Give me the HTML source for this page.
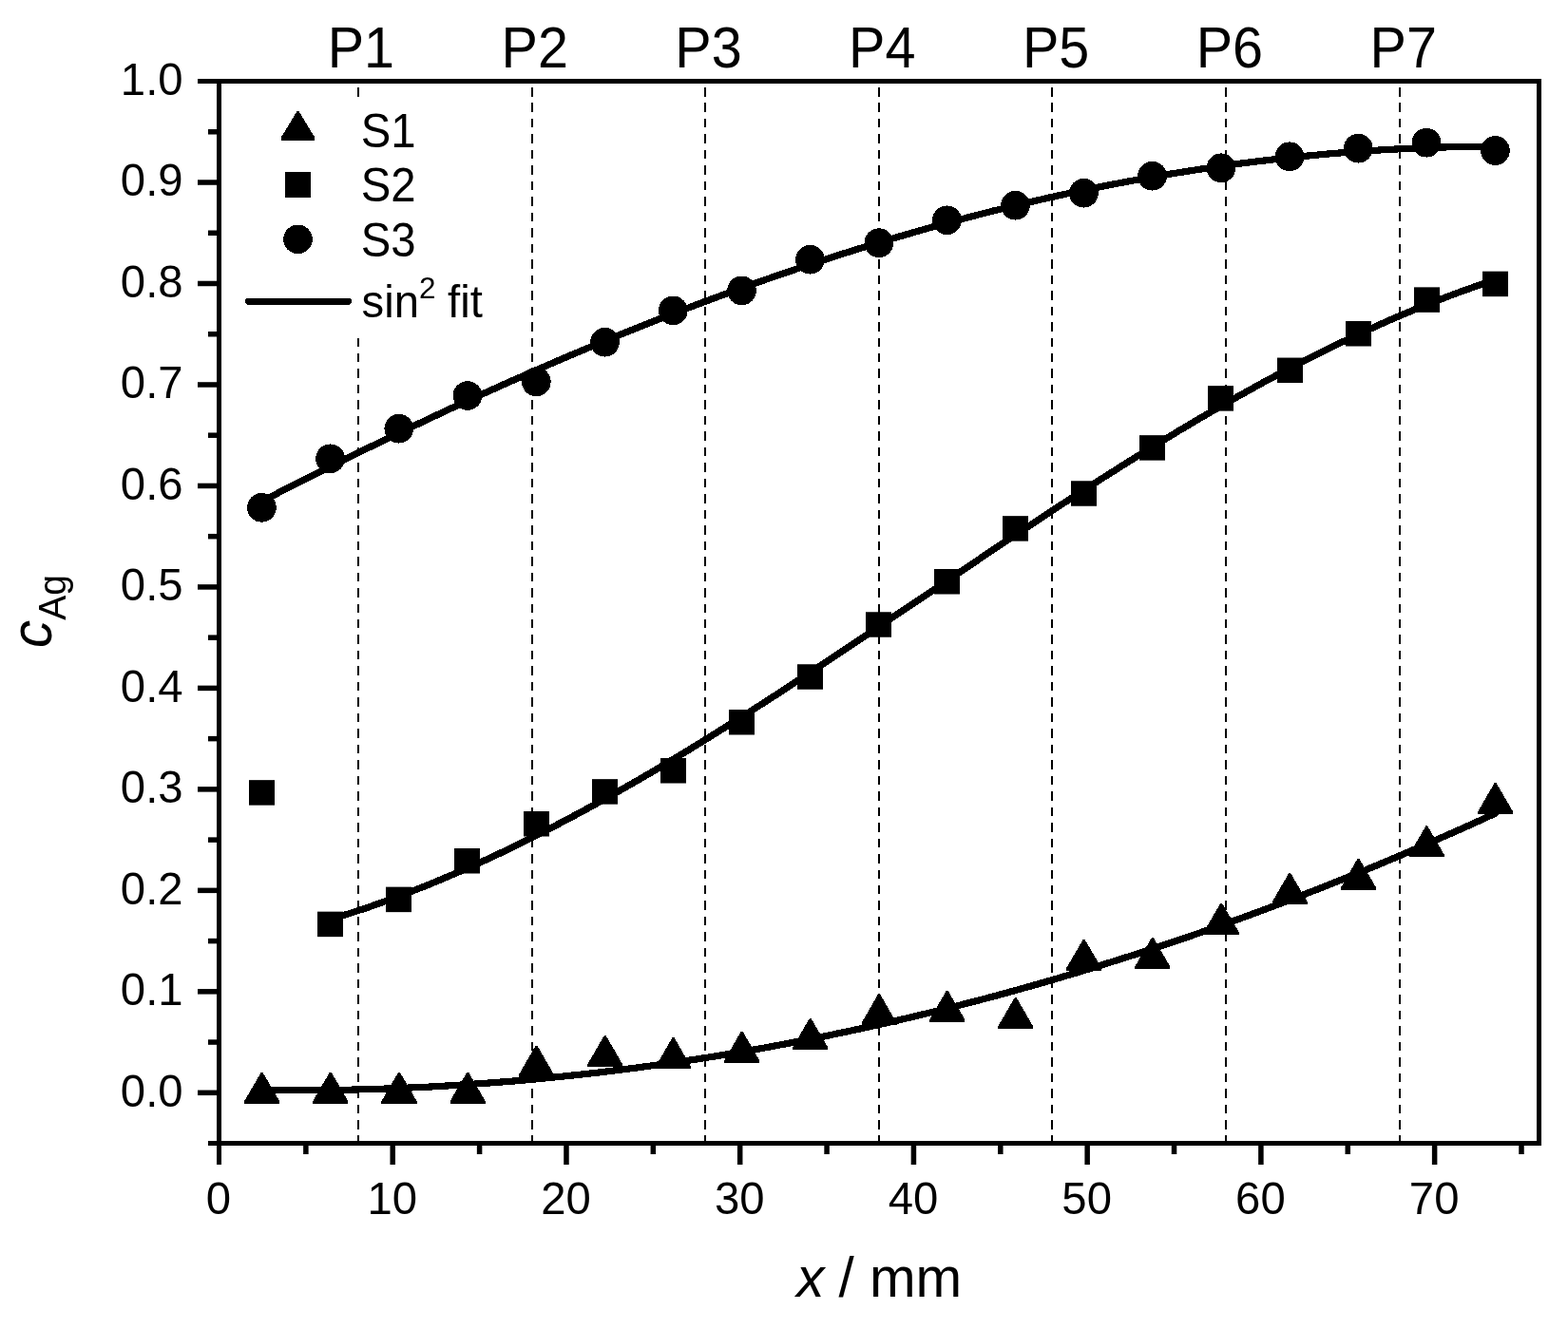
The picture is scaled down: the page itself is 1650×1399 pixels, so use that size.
<!DOCTYPE html>
<html lang="en"><head><meta charset="utf-8"><title>Silver concentration profile</title>
<style>html,body{margin:0;padding:0;background:#fff}body{width:1650px;height:1399px;overflow:hidden}svg{display:block}text{font-family:"Liberation Sans",sans-serif;fill:#000}</style></head><body>
<svg width="1650" height="1399" viewBox="0 0 1650 1399" role="img" aria-label="Silver concentration versus position for samples S1, S2 and S3 with sine-squared fits">
<rect x="0" y="0" width="1650" height="1399" fill="#fff"/>
<g stroke="#000" stroke-width="2" stroke-dasharray="9.5 6.97" fill="none" shape-rendering="crispEdges">
<line x1="377" y1="92" x2="377" y2="1201"/>
<line x1="560" y1="92" x2="560" y2="1201"/>
<line x1="742" y1="92" x2="742" y2="1201"/>
<line x1="925" y1="92" x2="925" y2="1201"/>
<line x1="1107" y1="92" x2="1107" y2="1201"/>
<line x1="1290" y1="92" x2="1290" y2="1201"/>
<line x1="1473" y1="92" x2="1473" y2="1201"/>
</g>
<g stroke="#000" stroke-width="7.2" fill="none" stroke-linecap="round" stroke-linejoin="round" shape-rendering="crispEdges">
<path d="M275.4 527.8 L297.4 516.5 L319.4 505.3 L341.4 494.3 L363.4 483.3 L385.4 472.5 L407.4 461.8 L429.4 451.3 L451.4 440.8 L473.4 430.5 L495.4 420.4 L517.4 410.4 L539.4 400.6 L561.4 390.9 L583.4 381.3 L605.4 371.9 L627.4 362.7 L649.4 353.6 L671.4 344.8 L693.4 336.0 L715.4 327.5 L737.4 319.1 L759.4 310.9 L781.4 302.9 L803.4 295.1 L825.4 287.5 L847.4 280.0 L869.4 272.8 L891.4 265.7 L913.4 258.9 L935.4 252.2 L957.4 245.8 L979.4 239.5 L1001.4 233.5 L1023.4 227.6 L1045.4 222.0 L1067.4 216.6 L1089.4 211.4 L1111.4 206.4 L1133.4 201.7 L1155.4 197.1 L1177.4 192.8 L1199.4 188.7 L1221.4 184.8 L1243.4 181.2 L1265.4 177.8 L1287.4 174.6 L1309.4 171.6 L1331.4 168.9 L1353.4 166.3 L1375.4 164.1 L1397.4 162.0 L1419.4 160.2 L1441.4 158.6 L1463.4 157.3 L1485.4 156.2 L1507.4 155.3 L1529.4 154.7 L1551.4 154.3 L1573.4 154.1"/>
<path d="M347.6 967.9 L368.4 961.4 L389.2 954.5 L409.9 947.1 L430.7 939.3 L451.5 931.1 L472.3 922.4 L493.0 913.4 L513.8 904.0 L534.6 894.2 L555.4 884.0 L576.1 873.5 L596.9 862.6 L617.7 851.4 L638.5 840.0 L659.2 828.2 L680.0 816.2 L700.8 803.9 L721.6 791.3 L742.3 778.6 L763.1 765.6 L783.9 752.5 L804.7 739.2 L825.5 725.7 L846.2 712.1 L867.0 698.4 L887.8 684.5 L908.6 670.7 L929.3 656.7 L950.1 642.7 L970.9 628.7 L991.7 614.7 L1012.4 600.7 L1033.2 586.7 L1054.0 572.8 L1074.8 559.0 L1095.5 545.3 L1116.3 531.6 L1137.1 518.1 L1157.9 504.8 L1178.7 491.6 L1199.4 478.6 L1220.2 465.8 L1241.0 453.2 L1261.8 440.9 L1282.5 428.8 L1303.3 417.0 L1324.1 405.4 L1344.9 394.2 L1365.6 383.3 L1386.4 372.7 L1407.2 362.5 L1428.0 352.6 L1448.7 343.1 L1469.5 333.9 L1490.3 325.2 L1511.1 316.9 L1531.8 309.0 L1552.6 301.5 L1573.4 294.5"/>
<path d="M275.4 1147.6 L297.4 1147.8 L319.4 1147.8 L341.4 1147.6 L363.4 1147.3 L385.4 1146.7 L407.4 1146.0 L429.4 1145.1 L451.4 1144.1 L473.4 1142.8 L495.4 1141.4 L517.4 1139.8 L539.4 1138.1 L561.4 1136.1 L583.4 1134.0 L605.4 1131.7 L627.4 1129.3 L649.4 1126.6 L671.4 1123.8 L693.4 1120.8 L715.4 1117.6 L737.4 1114.3 L759.4 1110.8 L781.4 1107.0 L803.4 1103.2 L825.4 1099.1 L847.4 1094.9 L869.4 1090.5 L891.4 1085.9 L913.4 1081.1 L935.4 1076.2 L957.4 1071.1 L979.4 1065.8 L1001.4 1060.3 L1023.4 1054.7 L1045.4 1048.9 L1067.4 1042.9 L1089.4 1036.7 L1111.4 1030.3 L1133.4 1023.8 L1155.4 1017.1 L1177.4 1010.2 L1199.4 1003.2 L1221.4 996.0 L1243.4 988.5 L1265.4 981.0 L1287.4 973.2 L1309.4 965.3 L1331.4 957.2 L1353.4 948.9 L1375.4 940.4 L1397.4 931.8 L1419.4 923.0 L1441.4 914.0 L1463.4 904.8 L1485.4 895.4 L1507.4 885.9 L1529.4 876.2 L1551.4 866.4 L1573.4 856.3"/>
</g>
<g fill="#000" stroke="none" shape-rendering="crispEdges">
<circle cx="275.4" cy="534.3" r="15.35"/>
<circle cx="347.6" cy="482.8" r="15.35"/>
<circle cx="419.8" cy="451.2" r="15.35"/>
<circle cx="492.0" cy="416.5" r="15.35"/>
<circle cx="564.3" cy="401.8" r="15.35"/>
<circle cx="636.5" cy="360.2" r="15.35"/>
<circle cx="708.3" cy="326.9" r="15.35"/>
<circle cx="780.5" cy="305.9" r="15.35"/>
<circle cx="852.5" cy="273.2" r="15.35"/>
<circle cx="924.9" cy="255.7" r="15.35"/>
<circle cx="996.5" cy="231.8" r="15.35"/>
<circle cx="1068.5" cy="216.2" r="15.35"/>
<circle cx="1140.4" cy="203.2" r="15.35"/>
<circle cx="1212.6" cy="185.2" r="15.35"/>
<circle cx="1284.9" cy="176.8" r="15.35"/>
<circle cx="1357.0" cy="164.8" r="15.35"/>
<circle cx="1429.3" cy="156.2" r="15.35"/>
<circle cx="1501.1" cy="150.2" r="15.35"/>
<circle cx="1573.4" cy="158.5" r="15.35"/>
<rect x="262" y="821.15" width="27" height="26.5" shape-rendering="auto"/>
<rect x="334" y="959.65" width="27" height="26.5" shape-rendering="auto"/>
<rect x="406" y="933.65" width="27" height="26.5" shape-rendering="auto"/>
<rect x="478" y="893.00" width="27" height="26.5" shape-rendering="auto"/>
<rect x="551" y="854.00" width="27" height="26.5" shape-rendering="auto"/>
<rect x="623" y="820.15" width="27" height="26.5" shape-rendering="auto"/>
<rect x="695" y="798.00" width="27" height="26.5" shape-rendering="auto"/>
<rect x="767" y="747.00" width="27" height="26.5" shape-rendering="auto"/>
<rect x="839" y="699.25" width="27" height="26.5" shape-rendering="auto"/>
<rect x="911" y="644.25" width="27" height="26.5" shape-rendering="auto"/>
<rect x="983" y="599.00" width="27" height="26.5" shape-rendering="auto"/>
<rect x="1055" y="543.15" width="27" height="26.5" shape-rendering="auto"/>
<rect x="1127" y="506.25" width="27" height="26.5" shape-rendering="auto"/>
<rect x="1199" y="458.15" width="27" height="26.5" shape-rendering="auto"/>
<rect x="1271" y="406.15" width="27" height="26.5" shape-rendering="auto"/>
<rect x="1344" y="376.55" width="27" height="26.5" shape-rendering="auto"/>
<rect x="1416" y="338.00" width="27" height="26.5" shape-rendering="auto"/>
<rect x="1488" y="302.35" width="27" height="26.5" shape-rendering="auto"/>
<rect x="1560" y="285.65" width="27" height="26.5" shape-rendering="auto"/>
<path d="M274.8 1128.8 H276.5 L294.2 1159.2 V1161.8 H257.1 V1159.2 Z"/>
<path d="M346.9 1128.8 H348.7 L366.4 1159.2 V1161.8 H329.2 V1159.2 Z"/>
<path d="M419.1 1128.8 H420.9 L438.6 1159.2 V1161.8 H401.4 V1159.2 Z"/>
<path d="M491.3 1128.8 H493.1 L510.8 1159.2 V1161.8 H473.6 V1159.2 Z"/>
<path d="M563.6 1100.8 H565.4 L583.0 1131.2 V1133.8 H546.0 V1131.2 Z"/>
<path d="M635.8 1090.1 H637.6 L655.2 1120.5 V1123.1 H618.2 V1120.5 Z"/>
<path d="M707.6 1092.1 H709.4 L727.0 1122.5 V1125.1 H690.0 V1122.5 Z"/>
<path d="M779.8 1085.8 H781.6 L799.2 1116.2 V1118.8 H762.2 V1116.2 Z"/>
<path d="M851.8 1072.1 H853.6 L871.2 1102.5 V1105.1 H834.2 V1102.5 Z"/>
<path d="M924.2 1046.3 H926.0 L943.6 1076.8 V1079.3 H906.6 V1076.8 Z"/>
<path d="M995.9 1042.8 H997.6 L1015.3 1073.2 V1075.8 H978.2 V1073.2 Z"/>
<path d="M1067.8 1050.1 H1069.6 L1087.2 1080.5 V1083.1 H1050.2 V1080.5 Z"/>
<path d="M1139.7 988.9 H1141.5 L1159.2 1019.2 V1021.9 H1122.1 V1019.2 Z"/>
<path d="M1211.9 987.1 H1213.7 L1231.3 1017.5 V1020.1 H1194.2 V1017.5 Z"/>
<path d="M1284.2 950.9 H1286.0 L1303.7 981.2 V983.9 H1266.6 V981.2 Z"/>
<path d="M1356.3 919.0 H1358.1 L1375.8 949.4 V952.0 H1338.7 V949.4 Z"/>
<path d="M1428.6 903.9 H1430.4 L1448.0 934.2 V936.9 H1411.0 V934.2 Z"/>
<path d="M1500.4 869.4 H1502.2 L1519.8 899.8 V902.4 H1482.8 V899.8 Z"/>
<path d="M1572.7 824.1 H1574.5 L1592.2 854.5 V857.1 H1555.1 V854.5 Z"/>
</g>
<rect x="250" y="104" width="270" height="248" fill="#fff"/>
<g fill="#000" shape-rendering="crispEdges">
<path d="M312.7 116.8 H314.3 L331.3 144.8 V147.8 H295.7 V144.8 Z"/>
<rect x="300" y="180.8" width="27" height="27"/>
<circle cx="313.5" cy="251.9" r="15.3"/>
</g>
<line x1="261.6" y1="317.4" x2="366.4" y2="317.4" stroke="#000" stroke-width="7.2" stroke-linecap="round" shape-rendering="crispEdges"/>
<text transform="translate(379.80 154.50) scale(1 1.04)" font-size="47.3" text-anchor="start">S1</text>
<text transform="translate(379.80 212.00) scale(1 1.04)" font-size="47.3" text-anchor="start">S2</text>
<text transform="translate(379.80 269.50) scale(1 1.04)" font-size="47.3" text-anchor="start">S3</text>
<text transform="translate(380.5 334)" font-size="47.3">sin<tspan x="60.6" dy="-19.6" font-size="31.5">2</tspan><tspan x="90.6" dy="19.6">fit</tspan></text>
<g fill="#000" shape-rendering="crispEdges">
<rect x="208" y="83" width="1414" height="5"/>
<rect x="219" y="1201" width="1403" height="5"/>
<rect x="228" y="83" width="5" height="1143"/>
<rect x="1617" y="83" width="5" height="1123"/>
</g>
<g fill="#000">
<rect x="208" y="1147.55" width="21" height="5.5"/>
<rect x="208" y="1041.07" width="21" height="5.5"/>
<rect x="208" y="934.60" width="21" height="5.5"/>
<rect x="208" y="828.12" width="21" height="5.5"/>
<rect x="208" y="721.65" width="21" height="5.5"/>
<rect x="208" y="615.17" width="21" height="5.5"/>
<rect x="208" y="508.69" width="21" height="5.5"/>
<rect x="208" y="402.22" width="21" height="5.5"/>
<rect x="208" y="295.74" width="21" height="5.5"/>
<rect x="208" y="189.27" width="21" height="5.5"/>
<rect x="219" y="1094.31" width="10" height="5.5"/>
<rect x="219" y="987.84" width="10" height="5.5"/>
<rect x="219" y="881.36" width="10" height="5.5"/>
<rect x="219" y="774.88" width="10" height="5.5"/>
<rect x="219" y="668.41" width="10" height="5.5"/>
<rect x="219" y="561.93" width="10" height="5.5"/>
<rect x="219" y="455.46" width="10" height="5.5"/>
<rect x="219" y="348.98" width="10" height="5.5"/>
<rect x="219" y="242.50" width="10" height="5.5"/>
<rect x="219" y="136.03" width="10" height="5.5"/>
</g>
<g fill="#000">
<rect x="410.48" y="1205" width="5.5" height="21"/>
<rect x="593.22" y="1205" width="5.5" height="21"/>
<rect x="775.95" y="1205" width="5.5" height="21"/>
<rect x="958.68" y="1205" width="5.5" height="21"/>
<rect x="1141.41" y="1205" width="5.5" height="21"/>
<rect x="1324.15" y="1205" width="5.5" height="21"/>
<rect x="1506.88" y="1205" width="5.5" height="21"/>
<rect x="319.12" y="1205" width="5.5" height="10"/>
<rect x="501.85" y="1205" width="5.5" height="10"/>
<rect x="684.58" y="1205" width="5.5" height="10"/>
<rect x="867.32" y="1205" width="5.5" height="10"/>
<rect x="1050.05" y="1205" width="5.5" height="10"/>
<rect x="1232.78" y="1205" width="5.5" height="10"/>
<rect x="1415.51" y="1205" width="5.5" height="10"/>
<rect x="1598.25" y="1205" width="5.5" height="10"/>
</g>
<text transform="translate(192.60 1164.60) scale(1 1.015)" font-size="47.3" text-anchor="end">0.0</text>
<text transform="translate(192.60 1058.12) scale(1 1.015)" font-size="47.3" text-anchor="end">0.1</text>
<text transform="translate(192.60 951.65) scale(1 1.015)" font-size="47.3" text-anchor="end">0.2</text>
<text transform="translate(192.60 845.17) scale(1 1.015)" font-size="47.3" text-anchor="end">0.3</text>
<text transform="translate(192.60 738.70) scale(1 1.015)" font-size="47.3" text-anchor="end">0.4</text>
<text transform="translate(192.60 632.22) scale(1 1.015)" font-size="47.3" text-anchor="end">0.5</text>
<text transform="translate(192.60 525.74) scale(1 1.015)" font-size="47.3" text-anchor="end">0.6</text>
<text transform="translate(192.60 419.27) scale(1 1.015)" font-size="47.3" text-anchor="end">0.7</text>
<text transform="translate(192.60 312.79) scale(1 1.015)" font-size="47.3" text-anchor="end">0.8</text>
<text transform="translate(192.60 206.32) scale(1 1.015)" font-size="47.3" text-anchor="end">0.9</text>
<text transform="translate(192.60 99.84) scale(1 1.015)" font-size="47.3" text-anchor="end">1.0</text>
<text transform="translate(230.00 1277.80) scale(1 1.015)" font-size="47.3" text-anchor="middle">0</text>
<text transform="translate(412.73 1277.80) scale(1 1.015)" font-size="47.3" text-anchor="middle">10</text>
<text transform="translate(595.47 1277.80) scale(1 1.015)" font-size="47.3" text-anchor="middle">20</text>
<text transform="translate(778.20 1277.80) scale(1 1.015)" font-size="47.3" text-anchor="middle">30</text>
<text transform="translate(960.93 1277.80) scale(1 1.015)" font-size="47.3" text-anchor="middle">40</text>
<text transform="translate(1143.66 1277.80) scale(1 1.015)" font-size="47.3" text-anchor="middle">50</text>
<text transform="translate(1326.40 1277.80) scale(1 1.015)" font-size="47.3" text-anchor="middle">60</text>
<text transform="translate(1509.13 1277.80) scale(1 1.015)" font-size="47.3" text-anchor="middle">70</text>
<text transform="translate(379.90 70.80) scale(0.985 1.04)" font-size="58.4" text-anchor="middle">P1</text>
<text transform="translate(562.70 70.80) scale(0.985 1.04)" font-size="58.4" text-anchor="middle">P2</text>
<text transform="translate(745.50 70.80) scale(0.985 1.04)" font-size="58.4" text-anchor="middle">P3</text>
<text transform="translate(928.30 70.80) scale(0.985 1.04)" font-size="58.4" text-anchor="middle">P4</text>
<text transform="translate(1111.10 70.80) scale(0.985 1.04)" font-size="58.4" text-anchor="middle">P5</text>
<text transform="translate(1293.90 70.80) scale(0.985 1.04)" font-size="58.4" text-anchor="middle">P6</text>
<text transform="translate(1476.70 70.80) scale(0.985 1.04)" font-size="58.4" text-anchor="middle">P7</text>
<text transform="translate(838.30 1364.80) scale(1 1.0)" font-size="58.4" text-anchor="start"><tspan font-style="italic">x</tspan><tspan x="28.0"> / mm</tspan></text>
<text transform="translate(53.5 682) rotate(-90) scale(1 1.04)" font-size="58.4"><tspan font-style="italic">c</tspan><tspan font-size="39.1" dy="15">Ag</tspan></text>
</svg></body></html>
